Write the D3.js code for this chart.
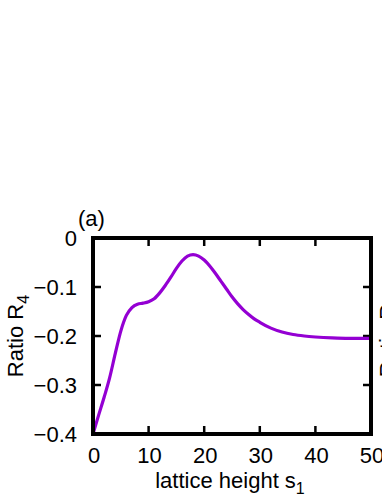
<!DOCTYPE html>
<html><head><meta charset="utf-8">
<script src="https://cdn.jsdelivr.net/npm/d3@7"></script>
<style>html,body{margin:0;padding:0;background:#fff;}svg{display:block;}</style>
</head><body>
<script>
const sValues = [0,1,2,3,4,5,6,7,8,9,10,11,12,13,14,15,16,17,18,19,20,21,22,23,24,25,26,27,28,29,30,32,34,36,38,40,43,46,50];
const ratioR4 = [-0.400,-0.362,-0.325,-0.285,-0.236,-0.190,-0.158,-0.142,-0.135,-0.133,-0.130,-0.124,-0.112,-0.097,-0.080,-0.062,-0.047,-0.037,-0.034,-0.037,-0.045,-0.057,-0.072,-0.088,-0.104,-0.120,-0.134,-0.146,-0.156,-0.165,-0.172,-0.184,-0.192,-0.197,-0.200,-0.202,-0.204,-0.205,-0.205];
const xTicks = [0,10,20,30,40,50];
const yTicks = [0,-0.1,-0.2,-0.3,-0.4];
const yTickLabels = ["0","\u22120.1","\u22120.2","\u22120.3","\u22120.4"];

(function(){
const W = 382, H = 494;
const mL = 93, mR = 371, mT = 238, mB = 434;
const svg = d3.select("body").append("svg").attr("width", W).attr("height", H);
const font = "'Liberation Sans', Arial, Helvetica, sans-serif";
const fs = 22;

const x = d3.scaleLinear().domain([0,50]).range([mL,mR]);
const y = d3.scaleLinear().domain([-0.4,0]).range([mB,mT]);

const tl = 8;
const tg = svg.append("g").attr("stroke","#000").attr("stroke-width",2.5);
xTicks.forEach(t=>{
  tg.append("line").attr("x1",x(t)).attr("x2",x(t)).attr("y1",mB).attr("y2",mB-tl);
  tg.append("line").attr("x1",x(t)).attr("x2",x(t)).attr("y1",mT).attr("y2",mT+tl);
});
yTicks.forEach(t=>{
  tg.append("line").attr("x1",mL).attr("x2",mL+tl).attr("y1",y(t)).attr("y2",y(t));
  tg.append("line").attr("x1",mR).attr("x2",mR-tl).attr("y1",y(t)).attr("y2",y(t));
});

const line = d3.line().x((d,i)=>x(sValues[i])).y(d=>y(d)).curve(d3.curveMonotoneX);
svg.append("path").datum(ratioR4).attr("d",line).attr("fill","none")
  .attr("stroke","#9400d3").attr("stroke-width",3.2).attr("stroke-linejoin","round");

svg.append("rect").attr("x",mL).attr("y",mT).attr("width",mR-mL).attr("height",mB-mT)
  .attr("fill","none").attr("stroke","#000").attr("stroke-width",4);

const lab = svg.append("g").attr("font-family",font).attr("font-size",fs).attr("fill","#000");
xTicks.forEach(t=>{
  lab.append("text").attr("x",x(t)+1).attr("y",463).attr("text-anchor","middle").text(t);
});
yTicks.forEach((t,i)=>{
  lab.append("text").attr("x",77).attr("y",y(t)+8).attr("text-anchor","end").text(yTickLabels[i]);
});

const xt = lab.append("text").attr("x",(mL+mR)/2-2).attr("y",488).attr("text-anchor","middle");
xt.append("tspan").text("lattice height s");
xt.append("tspan").attr("font-size",16).attr("dy",6).text("1");

function yLabel(xpos){
  const t = lab.append("text").attr("transform",`translate(${xpos},${(mT+mB)/2}) rotate(-90)`).attr("text-anchor","middle");
  t.append("tspan").text("Ratio R");
  t.append("tspan").attr("font-size",16).attr("dy",6).text("4");
}
yLabel(23);
yLabel(395);

lab.append("text").attr("x",78).attr("y",226).text("(a)");
})();
</script>
</body></html>
